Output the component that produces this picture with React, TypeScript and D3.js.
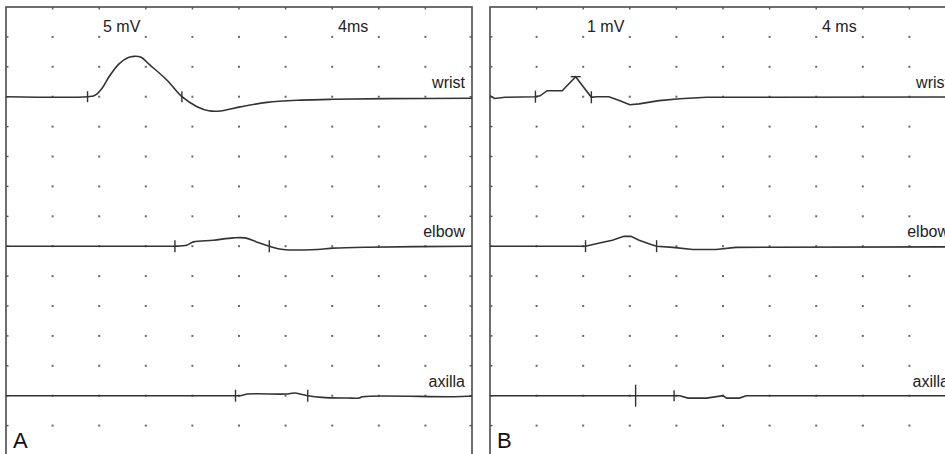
import React, { useEffect, useRef } from 'react';
import * as d3 from 'd3';

// traces as [ms, mV] pairs, 40 ms across the screen
const wristA = [[0, 0], [7.0, 0], [7.6, 0.2], [8.2, 1.3], [8.9, 3.5], [9.7, 5.5], [10.5, 6.55], [11.0, 6.75], [11.6, 6.6], [12.3, 5.4], [13.8, 2.8], [15.1, 0], [16.4, -1.67], [17.4, -2.35], [18.4, -2.39], [20.1, -1.7], [22.4, -0.95], [25.3, -0.58], [28.1, -0.43], [32.7, -0.33], [40, -0.27]];
const elbowA = [[0, 0], [13.8, 0], [14.5, 0], [15.5, 0.17], [16.1, 0.72], [17.8, 1.0], [19.5, 1.39], [20.5, 1.39], [21.5, 0.72], [22.6, 0], [23.8, -0.55], [26.7, -0.55], [28.1, -0.33], [31.0, -0.17], [40, 0]];
const axillaA = [[0, 0], [19.7, 0], [20.1, 0], [20.8, 0.28], [24.0, 0.28], [24.8, 0.45], [25.9, 0], [27.1, -0.28], [29.3, -0.39], [30.3, -0.39], [30.6, -0.17], [38.4, -0.17], [40, -0.05]];

const wristB = [[0, 0.03], [0.4, -0.06], [1.3, -0.02], [3.9, 0], [4.3, 0.03], [4.9, 0.2], [6.2, 0.2], [7.35, 0.67], [8.7, -0.02], [9.1, 0], [10.2, 0], [11.1, -0.13], [12.0, -0.27], [12.8, -0.24], [14.5, -0.13], [16.3, -0.07], [18.6, -0.02], [40, -0.01]];
const elbowB = [[0, 0], [8.2, 0], [9.4, 0.11], [10.5, 0.2], [11.5, 0.33], [12.1, 0.33], [12.8, 0.2], [13.7, 0.07], [14.3, 0], [15.7, -0.04], [17.4, -0.11], [19.4, -0.11], [21.1, -0.04], [40, -0.02]];
const axillaB = [[0, 0], [12.5, 0], [13.7, 0], [15.8, 0], [16.3, 0], [17.0, -0.08], [18.6, -0.08], [20.0, 0], [20.3, -0.08], [21.4, -0.08], [22.0, 0], [40, 0]];

// markers: [ms, mV, kind, half-length px]
const markWristA = [[7.0, 0, 'v', 5.5], [15.1, 0, 'v', 5.5]];
const markElbowA = [[14.5, 0, 'v', 6], [22.6, 0, 'v', 6]];
const markAxillaA = [[19.7, 0, 'v', 6], [25.9, 0, 'v', 6]];
const markWristB = [[3.9, 0, 'v', 6], [7.35, 0.67, 'h', 5], [8.7, -0.02, 'v', 6]];
const markElbowB = [[8.2, 0, 'v', 6], [14.3, 0, 'v', 6]];
const markAxillaB = [[12.5, 0, 'v', 11], [15.8, 0, 'v', 5.5]];

const siteNames = ['wrist', 'elbow', 'axilla'];
const baseRows = [3, 8, 13];

const panels = [
  { id: 'A', left: 6, gain: 5, gainLabel: '5 mV', sweepLabel: '4ms', curve: d3.curveCatmullRom.alpha(0.5),
    traces: [wristA, elbowA, axillaA], marks: [markWristA, markElbowA, markAxillaA] },
  { id: 'B', left: 490, gain: 1, gainLabel: '1 mV', sweepLabel: '4 ms', curve: d3.curveLinear,
    traces: [wristB, elbowB, axillaB], marks: [markWristB, markElbowB, markAxillaB] },
];

const W = 945;
const H = 454;
const panelW = 466;
const top = 7;
const rowH = 29.9;
const nCols = 10;
const nRows = 15;

export default function App() {
  const svgRef = useRef<SVGSVGElement>(null);

  useEffect(() => {
    const svg = d3.select(svgRef.current);
    svg.selectAll('*').remove();

    const ink = '#333';
    const font = '"Liberation Sans", Arial, sans-serif';

    const yDiv = d3.scaleLinear().domain([0, nRows]).range([top, top + nRows * rowH]);

    panels.forEach(p => {
      const x = d3.scaleLinear().domain([0, 40]).range([p.left, p.left + panelW]);
      const colX = d3.scaleLinear().domain([0, nCols]).range([p.left, p.left + panelW]);
      const g = svg.append('g');

      // frame
      g.append('rect')
        .attr('x', p.left).attr('y', top)
        .attr('width', panelW).attr('height', nRows * rowH)
        .attr('fill', 'none').attr('stroke', '#555').attr('stroke-width', 1.7);

      // grid dots
      const cells: [number, number][] = [];
      for (let c = 1; c < nCols; c++) for (let r = 1; r < nRows; r++) cells.push([c, r]);
      g.selectAll('.dot').data(cells).enter().append('rect')
        .attr('x', d => colX(d[0]) - 1).attr('y', d => yDiv(d[1]) - 1)
        .attr('width', 2).attr('height', 2).attr('fill', '#6a6a6a');

      // ticks on frame
      d3.range(1, nCols).forEach(c => {
        g.append('line').attr('x1', colX(c)).attr('x2', colX(c))
          .attr('y1', top).attr('y2', top + 2.5).attr('stroke', '#555').attr('stroke-width', 1.4);
      });
      d3.range(1, nRows).forEach(r => {
        g.append('line').attr('x1', p.left).attr('x2', p.left + 2.5)
          .attr('y1', yDiv(r)).attr('y2', yDiv(r)).attr('stroke', '#555').attr('stroke-width', 1.4);
        g.append('line').attr('x1', p.left + panelW - 2.5).attr('x2', p.left + panelW)
          .attr('y1', yDiv(r)).attr('y2', yDiv(r)).attr('stroke', '#555').attr('stroke-width', 1.4);
      });

      // traces
      p.traces.forEach((tr, i) => {
        const row = baseRows[i];
        const y = (v: number) => yDiv(row - v / p.gain);
        const line = d3.line<number[]>().x(d => x(d[0])).y(d => y(d[1])).curve(p.curve);
        g.append('path').attr('d', line(tr as number[][]))
          .attr('fill', 'none').attr('stroke', ink).attr('stroke-width', 1.6);

        (p.marks[i] as any[]).forEach(m => {
          const mx = x(m[0]);
          const my = y(m[1]);
          const len = m[3];
          if (m[2] === 'v') {
            g.append('line').attr('x1', mx).attr('x2', mx).attr('y1', my - len).attr('y2', my + len)
              .attr('stroke', ink).attr('stroke-width', 1.4);
          } else {
            g.append('line').attr('x1', mx - len).attr('x2', mx + len).attr('y1', my).attr('y2', my)
              .attr('stroke', ink).attr('stroke-width', 1.4);
          }
        });

        g.append('text')
          .attr('x', p.left + panelW - 7).attr('y', yDiv(row) - 9)
          .attr('text-anchor', 'end')
          .style('font-family', font).style('font-size', '16px').style('fill', '#222')
          .text(siteNames[i]);
      });

      // gain / sweep labels
      g.append('text').attr('x', p.left + 97).attr('y', 32)
        .style('font-family', font).style('font-size', '16px').style('fill', '#222')
        .text(p.gainLabel);
      g.append('text').attr('x', p.left + 332).attr('y', 32)
        .style('font-family', font).style('font-size', '16px').style('fill', '#222')
        .text(p.sweepLabel);

      // panel letter
      g.append('text').attr('x', p.left + 7).attr('y', 448)
        .style('font-family', font).style('font-size', '22px').style('fill', '#111')
        .text(p.id);
    });
  }, []);

  return (
    <svg ref={svgRef} width={W} height={H}
      style={{ position: 'absolute', left: 0, top: 0, background: '#fff', display: 'block' }} />
  );
}
